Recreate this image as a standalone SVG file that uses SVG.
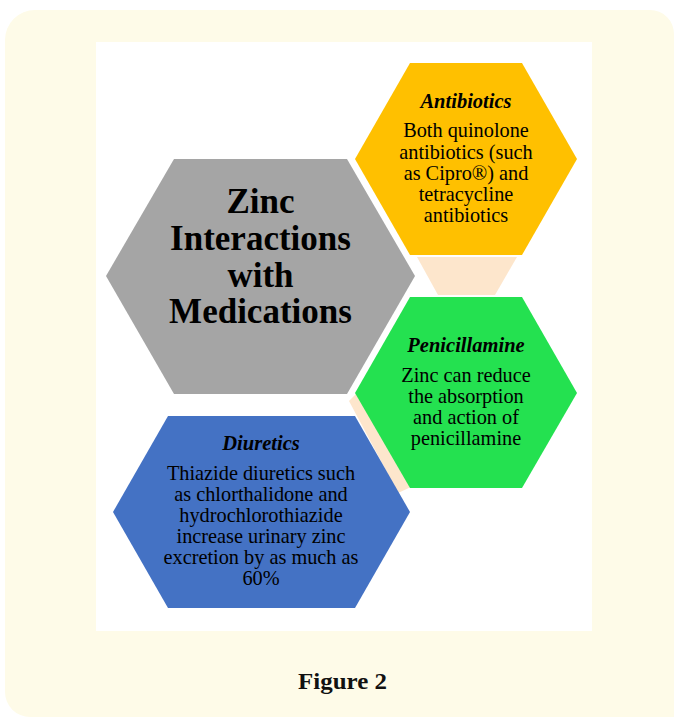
<svg xmlns="http://www.w3.org/2000/svg" width="674" height="717" viewBox="0 0 674 717">
  <style>
    .ttl { font-family: "Liberation Serif", "Times New Roman", serif; font-weight: bold; font-size: 35px; fill: #000; text-anchor: middle; }
    .hd { font-family: "Liberation Serif", "Times New Roman", serif; font-weight: bold; font-style: italic; font-size: 20.5px; fill: #000; text-anchor: middle; }
    .bd { font-family: "Liberation Serif", "Times New Roman", serif; font-size: 20.3px; fill: #000; text-anchor: middle; }
    .cap { font-family: "Liberation Serif", "Times New Roman", serif; font-weight: bold; font-size: 24px; fill: #111; text-anchor: middle; }
    .link { fill: #FDE6CC; }
  </style>

  <!-- cream panel -->
  <path d="M5,40 A30,30 0 0 1 35,10 L650,10 A24,24 0 0 1 674,34 L674,717 L30,717 A25,25 0 0 1 5,692 Z" fill="#FEFBE8"/>
  <!-- white figure area -->
  <rect x="96" y="42" width="496" height="589" fill="#FFFFFF"/>

  <!-- connectors between hexagons -->
  <g id="connectors">
    <polygon class="link" points="417,257 517,257 495,295 438,295"/>
    <polygon class="link" points="349,401 358,392 411,487 398,493"/>
  </g>

  <g id="center">
    <polygon points="106,276 174,159 347,159 415,276 347,394 174,394" fill="#A5A5A5"/>
    <text class="ttl" x="260.5" y="213">Zinc</text>
    <text class="ttl" x="260.5" y="250">Interactions</text>
    <text class="ttl" x="260.5" y="287">with</text>
    <text class="ttl" x="260.5" y="323">Medications</text>
  </g>

  <g id="antibiotics">
    <polygon points="355,159 410,63 522,63 577,159 522,255 410,255" fill="#FFC000"/>
    <text class="hd" x="466" y="108">Antibiotics</text>
    <text class="bd" x="466" y="137">Both quinolone</text>
    <text class="bd" x="466" y="159">antibiotics (such</text>
    <text class="bd" x="466" y="180">as Cipro®) and</text>
    <text class="bd" x="466" y="201">tetracycline</text>
    <text class="bd" x="466" y="222">antibiotics</text>
  </g>

  <g id="penicillamine">
    <polygon points="355,393 410,297 522,297 577,393 522,488 410,488" fill="#24E150"/>
    <text class="hd" x="466" y="352">Penicillamine</text>
    <text class="bd" x="466" y="382">Zinc can reduce</text>
    <text class="bd" x="466" y="403">the absorption</text>
    <text class="bd" x="466" y="424">and action of</text>
    <text class="bd" x="466" y="445">penicillamine</text>
  </g>

  <g id="diuretics">
    <polygon points="113,512 168,416 355,416 410,512 355,608 168,608" fill="#4472C4"/>
    <text class="hd" x="261" y="450">Diuretics</text>
    <text class="bd" x="261" y="480">Thiazide diuretics such</text>
    <text class="bd" x="261" y="501">as chlorthalidone and</text>
    <text class="bd" x="261" y="522">hydrochlorothiazide</text>
    <text class="bd" x="261" y="543">increase urinary zinc</text>
    <text class="bd" x="261" y="564">excretion by as much as</text>
    <text class="bd" x="261" y="585">60%</text>
  </g>

  <text class="cap" x="342.5" y="689" textLength="89" lengthAdjust="spacingAndGlyphs">Figure 2</text>
</svg>
